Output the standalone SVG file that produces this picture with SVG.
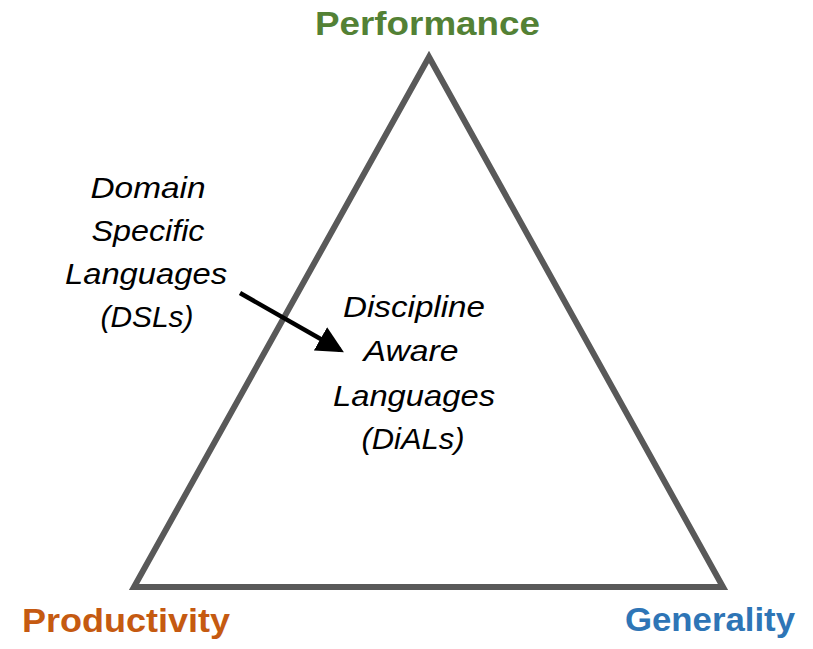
<svg xmlns="http://www.w3.org/2000/svg" width="813" height="649" viewBox="0 0 813 649">
<defs>
<style>
.lbl{font-family:"Liberation Sans",Arial,sans-serif;font-weight:bold;font-size:34px;}
.it{font-family:"Liberation Sans",Arial,sans-serif;font-style:italic;font-size:30px;fill:#000;text-anchor:middle;}
</style>
<marker id="ah" markerWidth="6" markerHeight="6" refX="5" refY="3" orient="auto" markerUnits="strokeWidth">
<path d="M0,0 L6,3 L0,6 Z" fill="#000"/>
</marker>
</defs>
<rect width="813" height="649" fill="#fff"/>
<g id="triangle">
<polygon points="429,57 134,587 723,587" fill="none" stroke="#595959" stroke-width="6" stroke-linejoin="miter"/>
</g>
<g id="performance"><text class="lbl" x="315" y="35" fill="#538135" textLength="225" lengthAdjust="spacingAndGlyphs">Performance</text></g>
<g id="productivity"><text class="lbl" x="22" y="632" fill="#C55A11" textLength="208" lengthAdjust="spacingAndGlyphs">Productivity</text></g>
<g id="generality"><text class="lbl" x="625" y="631" fill="#2E75B6" textLength="170" lengthAdjust="spacingAndGlyphs">Generality</text></g>
<g id="dsl">
<text class="it" x="148" y="198" textLength="115" lengthAdjust="spacingAndGlyphs">Domain</text>
<text class="it" x="148" y="241" textLength="113" lengthAdjust="spacingAndGlyphs">Specific</text>
<text class="it" x="146" y="284" textLength="162" lengthAdjust="spacingAndGlyphs">Languages</text>
<text class="it" x="147" y="327" textLength="93" lengthAdjust="spacingAndGlyphs">(DSLs)</text>
</g>
<g id="dial">
<text class="it" x="414" y="317" textLength="142" lengthAdjust="spacingAndGlyphs">Discipline</text>
<text class="it" x="411" y="361" textLength="95" lengthAdjust="spacingAndGlyphs">Aware</text>
<text class="it" x="414" y="406" textLength="162" lengthAdjust="spacingAndGlyphs">Languages</text>
<text class="it" x="413" y="449" textLength="103" lengthAdjust="spacingAndGlyphs">(DiALs)</text>
</g>
<g id="connectors">
<line x1="240" y1="293" x2="340" y2="350" stroke="#000" stroke-width="4.5" marker-end="url(#ah)"/>
</g>
</svg>
